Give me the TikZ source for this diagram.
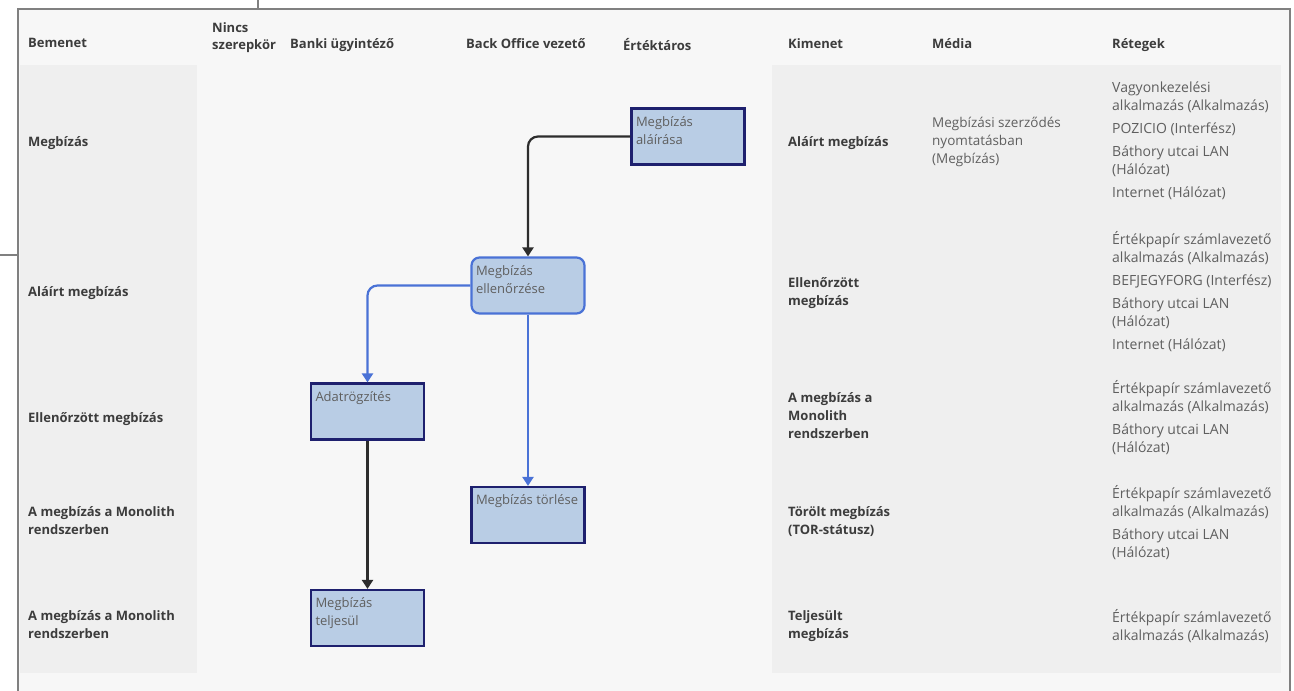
\documentclass[tikz,border=0pt]{standalone}
\usepackage{fontspec}
\setmainfont{Open Sans}
\usetikzlibrary{arrows.meta}

\definecolor{frameline}{RGB}{128,128,128}
\definecolor{canvas}{RGB}{247,247,247}
\definecolor{band}{RGB}{239,239,239}
\definecolor{headtext}{RGB}{60,60,60}
\definecolor{celltext}{RGB}{95,95,95}
\definecolor{boxfill}{RGB}{185,205,229}
\definecolor{boxline}{RGB}{30,32,110}
\definecolor{flowblue}{RGB}{74,114,214}
\definecolor{flowdark}{RGB}{45,45,45}

\newcommand{\boxtext}[1]{\parbox[t][40pt][t]{104pt}{\raggedright #1}}

\tikzset{
  head/.style={anchor=north west, inner sep=0pt, font=\fontsize{13}{17}\selectfont\bfseries, text=headtext, align=left},
  cell/.style={anchor=north west, inner sep=0pt, font=\fontsize{13}{18}\selectfont\bfseries, text=headtext, align=left},
  layer/.style={anchor=north west, inner sep=0pt, font=\fontsize{14}{18}\selectfont, text=celltext, align=left},
  media/.style={layer, font=\fontsize{13.5}{18}\selectfont},
  activity/.style={draw=boxline, fill=boxfill, line width=2.2pt, minimum width=113pt, minimum height=56pt, inner sep=0pt, text=celltext, font=\fontsize{13}{18}\selectfont},
  decision/.style={activity, draw=flowblue, rounded corners=8pt},
  flow/.style={draw=flowdark, line width=2.2pt, rounded corners=10pt, -{Triangle[width=11pt,length=9pt]}},
  bflow/.style={flow, draw=flowblue},
  frame/.style={draw=frameline, line width=2pt}
}

\begin{document}
\begin{tikzpicture}[x=1pt, y=-1pt]
  \useasboundingbox[fill=white] (0,0) rectangle (1294,691);

  % Frame
  \fill[canvas] (18,9) rectangle (1290,700);
  \draw[frame] (18,700) -- (18,9) -- (1290,9) -- (1290,700);

  % Stubs from outside
  \coordinate (topstub) at (258,0);
  \coordinate (topjoin) at (258,9);
  \coordinate (leftstub) at (0,255);
  \coordinate (leftjoin) at (18,255);
  \draw[frameline, line width=1.2pt] (topstub) -- (topjoin);
  \draw[frameline, line width=1.2pt] (leftstub) -- (leftjoin);

  % Input and output bands
  \fill[band] (20,65) rectangle (197,673);
  \fill[band] (772,65) rectangle (1281,673);

  % Column heads
  \node[head] (hin) at (28,38) {Bemenet};
  \node[head] (hnone) at (212,22) {Nincs\\szerepkör};
  \node[head] (hclerk) at (290,38) {Banki ügyintéző};
  \node[head] (hboss) at (466,38) {Back Office vezető};
  \node[head] (hvault) at (623,38) {Értéktáros};
  \node[head] (hout) at (788,38) {Kimenet};
  \node[head] (hmedia) at (932,38) {Média};
  \node[head] (hlayer) at (1112,38) {Rétegek};

  % Inputs
  \node[cell] (in1) at (28,136) {Megbízás};
  \node[cell] (in2) at (28,286) {Aláírt megbízás};
  \node[cell] (in3) at (28,412) {Ellenőrzött megbízás};
  \node[cell] (in4) at (28,506) {A megbízás a Monolith\\rendszerben};
  \node[cell] (in5) at (28,610) {A megbízás a Monolith\\rendszerben};

  % Outputs
  \node[cell] (out1) at (788,136) {Aláírt megbízás};
  \node[cell] (out2) at (788,277) {Ellenőrzött\\megbízás};
  \node[cell] (out3) at (788,392) {A megbízás a\\Monolith\\rendszerben};
  \node[cell] (out4) at (788,506) {Törölt megbízás\\(TOR-státusz)};
  \node[cell] (out5) at (788,610) {Teljesült\\megbízás};

  % Media
  \node[media] (media1) at (932,117) {Megbízási szerződés\\nyomtatásban\\(Megbízás)};

  % Layers
  \node[layer] (layer1) at (1112,82) {Vagyonkezelési\\alkalmazás (Alkalmazás)\\[5pt]POZICIO (Interfész)\\[5pt]Báthory utcai LAN\\(Hálózat)\\[5pt]Internet (Hálózat)};
  \node[layer] (layer2) at (1112,231) {Értékpapír számlavezető\\alkalmazás (Alkalmazás)\\[5pt]BEFJEGYFORG (Interfész)\\[5pt]Báthory utcai LAN\\(Hálózat)\\[5pt]Internet (Hálózat)};
  \node[layer] (layer3) at (1112,380) {Értékpapír számlavezető\\alkalmazás (Alkalmazás)\\[5pt]Báthory utcai LAN\\(Hálózat)};
  \node[layer] (layer4) at (1112,485) {Értékpapír számlavezető\\alkalmazás (Alkalmazás)\\[5pt]Báthory utcai LAN\\(Hálózat)};
  \node[layer] (layer5) at (1112,609) {Értékpapír számlavezető\\alkalmazás (Alkalmazás)};

  % Activities
  \node[activity] (sign) at (688,136.5) {\boxtext{Megbízás\\aláírása}};
  \node[decision] (check) at (528,285.5) {\boxtext{Megbízás\\ellenőrzése}};
  \node[activity] (record) at (367.5,411.5) {\boxtext{Adatrögzítés}};
  \node[activity] (delete) at (528,515) {\boxtext{Megbízás törlése}};
  \node[activity] (done) at (367.5,618) {\boxtext{Megbízás\\teljesül}};

  % Flows
  \draw[flow] (sign.west) -| (check.north);
  \draw[bflow] (check.west) -| (record.north);
  \draw[bflow] (check.south) -- (delete.north);
  \draw[flow] (record.south) -- (done.north);
\end{tikzpicture}
\end{document}
